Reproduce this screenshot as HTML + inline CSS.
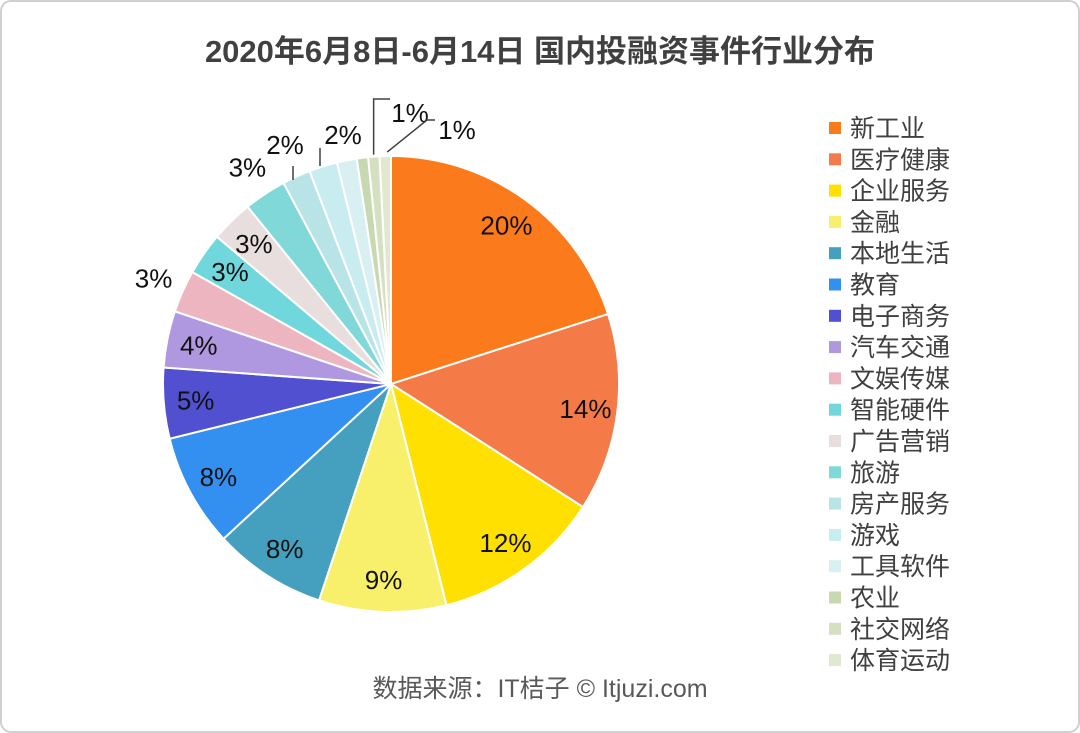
<!DOCTYPE html>
<html><head><meta charset="utf-8"><style>
body{margin:0;background:#fff;}
#wrap{position:relative;width:1080px;height:733px;overflow:hidden;font-family:"Liberation Sans","Noto Sans CJK SC",sans-serif;}
</style></head><body>
<div id="wrap">
<svg id="svg" width="1080" height="733">
<rect x="1" y="1" width="1078" height="731" rx="10" fill="#fff" stroke="#d0d0d0" stroke-width="2"/>
<text x="540" y="62" text-anchor="middle" font-size="31" font-weight="bold" fill="#404040" font-family="Liberation Sans,Noto Sans CJK SC,sans-serif">2020年6月8日-6月14日 国内投融资事件行业分布</text>
<text x="540" y="697" text-anchor="middle" font-size="25" fill="#595959" font-family="Liberation Sans,Noto Sans CJK SC,sans-serif">数据来源：IT桔子 © Itjuzi.com</text>
<g id="slices"></g><g id="labels"></g><g id="legend"></g>
</svg>
</div>
<script>
const categories=["新工业","医疗健康","企业服务","金融","本地生活","教育","电子商务","汽车交通","文娱传媒","智能硬件","广告营销","旅游","房产服务","游戏","工具软件","农业","社交网络","体育运动"];
const values=[20,14,12,9,8,8,5,4,3,3,3,3,2,2,1.4,0.8,0.8,0.8];
const labels=["20%","14%","12%","9%","8%","8%","5%","4%","3%","3%","3%","3%","2%","2%","","","1%","1%"];
const colors=["#FA7A1C","#F47A48","#FFE000","#F8F06A","#44A0BE","#3390F0","#5050D0","#B098E0","#EDB5C0","#70D8DC","#E8DEDE","#80D8D8","#B8E4E8","#C8ECF0","#D8F0F2","#C8D8B0","#D4E0C0","#E0E8D0"];
const NS="http://www.w3.org/2000/svg";
const cx=391,cy=384,R=228;
const total=values.reduce((a,b)=>a+b,0);
const sg=document.getElementById('slices'),lg=document.getElementById('labels'),leg=document.getElementById('legend');
function pt(a,r){return [cx+r*Math.sin(a),cy-r*Math.cos(a)];}
let acc=0;
values.forEach((v,i)=>{
  const a0=acc/total*2*Math.PI;acc+=v;const a1=acc/total*2*Math.PI;
  const p0=pt(a0,R),p1=pt(a1,R);
  const p=document.createElementNS(NS,'path');
  p.setAttribute('d',`M${cx},${cy}L${p0[0]},${p0[1]}A${R},${R} 0 ${a1-a0>Math.PI?1:0} 1 ${p1[0]},${p1[1]}Z`);
  p.setAttribute('fill',colors[i]);p.setAttribute('stroke','#fff');p.setAttribute('stroke-width','2');
  
  
  sg.appendChild(p);
  if(labels[i]){
    const am=(a0+a1)/2;let f=0.86;let lead=false;
    if(i===8||i===11)f=1.14;
    let pos=pt(am,R*f);
    if(i===12){pos=[285,145];lead=true;}
    if(i===13){pos=[343,135];lead=true;}
    if(i===16){pos=[410,113];lead=true;}
    if(i===17){pos=[457,130];lead=true;}
    if(lead){
      const l=document.createElementNS(NS,'polyline');
      const e=pt(am,R+2);
      let pts;
      if(i===16)pts=`${e[0]},${e[1]} ${e[0]},${pos[1]-14} ${pos[0]-20},${pos[1]-14}`;
      else if(i===17)pts=`${e[0]+2},${e[1]-2} ${pos[0]-30},${pos[1]-10} ${pos[0]-22},${pos[1]-10}`;
      else if(i===12)pts=`293,180 293,166`;
      else pts=`320,166 320,148`;
      l.setAttribute('points',pts);l.setAttribute('fill','none');l.setAttribute('stroke','#404040');l.setAttribute('stroke-width','1.5');
      
      
      lg.appendChild(l);
    }
    const t=document.createElementNS(NS,'text');
    t.setAttribute('x',pos[0]);t.setAttribute('y',pos[1]+9);t.setAttribute('text-anchor','middle');
    t.setAttribute('font-size','26');t.setAttribute('fill','#111');
    t.setAttribute('font-family','Liberation Sans,sans-serif');
    t.textContent=labels[i];
    
    
    lg.appendChild(t);
  }
  const y=128+i*31.3;
  const r=document.createElementNS(NS,'rect');
  r.setAttribute('x',829);r.setAttribute('y',y-6);r.setAttribute('width',12);r.setAttribute('height',12);r.setAttribute('fill',colors[i]);
  
  
  leg.appendChild(r);
  const t=document.createElementNS(NS,'text');
  t.setAttribute('x',850);t.setAttribute('y',y+9);t.setAttribute('font-size','25');t.setAttribute('fill','#404040');
  t.setAttribute('font-family','Liberation Sans,Noto Sans CJK SC,sans-serif');
  t.textContent=categories[i];
  
  
  leg.appendChild(t);
});
</script>
</body></html>
